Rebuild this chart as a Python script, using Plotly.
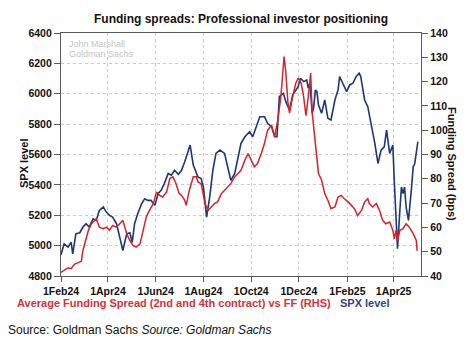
import plotly.graph_objects as go

# ---- Data ----
spx_dates = [
    "2024-02-01", "2024-02-05", "2024-02-10", "2024-02-14", "2024-02-16", "2024-02-20",
    "2024-02-25", "2024-02-29", "2024-03-04", "2024-03-08", "2024-03-13", "2024-03-17",
    "2024-03-21", "2024-03-26", "2024-03-30", "2024-04-03", "2024-04-07", "2024-04-12",
    "2024-04-16", "2024-04-20", "2024-04-25", "2024-04-29", "2024-05-02", "2024-05-05",
    "2024-05-09", "2024-05-14", "2024-05-18", "2024-05-22", "2024-05-26", "2024-05-31",
    "2024-06-04", "2024-06-08", "2024-06-12", "2024-06-17", "2024-06-21", "2024-06-25",
    "2024-06-30", "2024-07-04", "2024-07-08", "2024-07-12", "2024-07-15", "2024-07-19",
    "2024-07-22", "2024-07-25", "2024-07-29", "2024-08-01", "2024-08-05", "2024-08-09",
    "2024-08-13", "2024-08-17", "2024-08-22", "2024-08-28", "2024-09-01", "2024-09-05",
    "2024-09-10", "2024-09-14", "2024-09-18", "2024-09-23", "2024-09-29", "2024-10-03",
    "2024-10-07", "2024-10-12", "2024-10-18", "2024-10-22", "2024-10-27", "2024-10-31",
    "2024-11-03", "2024-11-06", "2024-11-11", "2024-11-15", "2024-11-19", "2024-11-23",
    "2024-11-30", "2024-12-03", "2024-12-07", "2024-12-11", "2024-12-13", "2024-12-15",
    "2024-12-18", "2024-12-20", "2024-12-22", "2024-12-24", "2024-12-26", "2024-12-30",
    "2025-01-03", "2025-01-07", "2025-01-11", "2025-01-16", "2025-01-20", "2025-01-22",
    "2025-01-26", "2025-01-31", "2025-02-04", "2025-02-08", "2025-02-12", "2025-02-16",
    "2025-02-18", "2025-02-23", "2025-02-27", "2025-03-04", "2025-03-08", "2025-03-12",
    "2025-03-14", "2025-03-16", "2025-03-20", "2025-03-23", "2025-03-27", "2025-03-31",
    "2025-04-02", "2025-04-04", "2025-04-06", "2025-04-09", "2025-04-11", "2025-04-13",
    "2025-04-15", "2025-04-17", "2025-04-20", "2025-04-24", "2025-04-26", "2025-04-28",
    "2025-04-30", "2025-05-02",
]
spx_level = [
    4940, 5012, 4990, 5022, 4946, 5078,
    5085, 5122, 5144, 5122, 5177, 5166,
    5232, 5254, 5221, 5199, 5188, 5144,
    5056, 4968, 5078, 5085, 5022, 5144,
    5210, 5276, 5309, 5298, 5298, 5265,
    5342, 5364, 5408, 5475, 5464, 5496,
    5470, 5496, 5551, 5607, 5662, 5530,
    5496, 5452, 5441, 5386, 5188, 5320,
    5496, 5607, 5629, 5607, 5518, 5430,
    5475, 5584, 5673, 5717, 5750, 5717,
    5783, 5849, 5849, 5805, 5783, 5717,
    5717, 5981, 6003, 5937, 5893, 5992,
    6047, 6102, 6080, 6091, 6036, 6069,
    5871, 5915, 6025, 6014, 5926, 5871,
    5959, 5838, 5827, 5959, 6025, 6113,
    6069, 6014, 6058, 6069, 6113, 6135,
    6113, 5959, 5915, 5783, 5673, 5541,
    5584, 5629, 5650, 5761, 5607, 5662,
    5409, 5188, 4980, 5232, 5386, 5342,
    5386, 5254, 5166, 5386, 5518, 5541,
    5629, 5684,
]

spread_dates = [
    "2024-02-01", "2024-02-05", "2024-02-10", "2024-02-14", "2024-02-18", "2024-02-23",
    "2024-02-27", "2024-02-29", "2024-03-02", "2024-03-07", "2024-03-11", "2024-03-15",
    "2024-03-17", "2024-03-21", "2024-03-26", "2024-03-30", "2024-04-03", "2024-04-07",
    "2024-04-12", "2024-04-16", "2024-04-20", "2024-04-25", "2024-04-29", "2024-05-03",
    "2024-05-07", "2024-05-12", "2024-05-16", "2024-05-20", "2024-05-24", "2024-05-29",
    "2024-06-02", "2024-06-06", "2024-06-10", "2024-06-15", "2024-06-19", "2024-06-23",
    "2024-06-27", "2024-07-01", "2024-07-04", "2024-07-08", "2024-07-10", "2024-07-14",
    "2024-07-19", "2024-07-23", "2024-07-25", "2024-07-29", "2024-08-03", "2024-08-07",
    "2024-08-11", "2024-08-15", "2024-08-19", "2024-08-24", "2024-08-28", "2024-09-01",
    "2024-09-05", "2024-09-10", "2024-09-14", "2024-09-18", "2024-09-23", "2024-09-27",
    "2024-10-01", "2024-10-05", "2024-10-09", "2024-10-14", "2024-10-18", "2024-10-22",
    "2024-10-27", "2024-10-31", "2024-11-04", "2024-11-08", "2024-11-12", "2024-11-14",
    "2024-11-17", "2024-11-19", "2024-11-23", "2024-11-27", "2024-11-30", "2024-12-04",
    "2024-12-07", "2024-12-10", "2024-12-13", "2024-12-16", "2024-12-18", "2024-12-20",
    "2024-12-22", "2024-12-24", "2024-12-26", "2024-12-30", "2025-01-01", "2025-01-03",
    "2025-01-07", "2025-01-11", "2025-01-16", "2025-01-20", "2025-01-24", "2025-01-28",
    "2025-02-02", "2025-02-06", "2025-02-10", "2025-02-14", "2025-02-19", "2025-02-23",
    "2025-02-27", "2025-03-01", "2025-03-05", "2025-03-10", "2025-03-14", "2025-03-18",
    "2025-03-22", "2025-03-27", "2025-03-31", "2025-04-02", "2025-04-04", "2025-04-06",
    "2025-04-09", "2025-04-13", "2025-04-17", "2025-04-21", "2025-04-26", "2025-04-30",
    "2025-05-01",
]
funding_spread = [
    41.5, 42.2, 43.4, 43.0, 44.8, 45.5,
    46.1, 50.5, 53.2, 58.8, 61.5, 62.9,
    63.6, 60.1, 59.5, 60.1, 58.8, 60.8,
    60.1, 61.5, 62.9, 57.4, 54.6, 52.6,
    51.9, 53.2, 58.8, 64.3, 67.0, 69.8,
    74.6, 73.2, 72.5, 74.6, 80.1, 80.8,
    78.0, 73.9, 73.2, 71.2, 69.1, 75.3,
    80.8, 80.8, 78.7, 78.0, 69.8, 67.0,
    68.4, 69.8, 70.5, 73.9, 75.3, 76.6,
    78.0, 80.8, 82.2, 83.5, 87.7, 90.4,
    87.7, 84.9, 86.3, 90.4, 94.6, 100.0,
    102.1, 97.3, 104.2, 113.8, 130.3, 124.8,
    111.1, 107.0, 113.8, 119.3, 121.4, 119.3,
    113.8, 106.0, 113.8, 123.5, 107.0, 100.0,
    94.6, 89.0, 82.2, 79.4, 76.6, 73.9,
    71.2, 67.7, 68.4, 72.5, 73.2, 71.8,
    70.5, 69.1, 67.7, 64.9, 67.0, 70.5,
    71.8, 69.8, 68.4, 69.8, 67.0, 62.9,
    61.5, 62.2, 58.8, 55.3, 58.8, 54.6,
    58.8, 59.5, 61.5, 60.1, 57.4, 54.6,
    50.4,
]

x_tick_vals = ["2024-02-01", "2024-04-01", "2024-06-01", "2024-08-01",
               "2024-10-01", "2024-12-01", "2025-02-01", "2025-04-01"]
x_tick_text = ["1Feb24", "1Apr24", "1Jun24", "1Aug24",
               "1Oct24", "1Dec24", "1Feb25", "1Apr25"]

# ---- Styling ----
FONT = "Liberation Sans, Arial, sans-serif"
RED = "#d8232a"
BLUE = "#1c3676"
AXIS = "#5a5a5a"
GRID = "#c9c9c9"

fig = go.Figure()
fig.add_trace(go.Scatter(x=spread_dates, y=funding_spread, yaxis="y2", mode="lines",
                         line=dict(color=RED, width=1.5), name="Funding spread"))
fig.add_trace(go.Scatter(x=spx_dates, y=spx_level, yaxis="y", mode="lines",
                         line=dict(color=BLUE, width=1.6), name="SPX level"))

tickfont = dict(family=FONT, size=10.5, color="#111111", weight="bold")

fig.update_layout(
    width=471, height=351,
    margin=dict(l=61, r=50, t=33, b=75),
    paper_bgcolor="white", plot_bgcolor="white",
    showlegend=False,
    xaxis=dict(
        type="date", range=["2024-02-01", "2025-05-06"],
        tickvals=x_tick_vals, ticktext=x_tick_text, tickfont=tickfont,
        ticks="outside", ticklen=5, tickcolor=AXIS,
        showline=True, linecolor=AXIS, linewidth=1.3, mirror=True,
        showgrid=True, gridcolor=GRID, griddash="3px,3px", gridwidth=1,
        zeroline=False,
    ),
    yaxis=dict(
        range=[4800, 6400], dtick=200, tickfont=tickfont,
        ticks="outside", ticklen=6, tickcolor=AXIS,
        showline=True, linecolor=AXIS, linewidth=1.3,
        showgrid=True, gridcolor=GRID, griddash="3px,3px", gridwidth=1,
        zeroline=False,
    ),
    yaxis2=dict(
        range=[40, 140], dtick=10, tickfont=tickfont, overlaying="y", side="right",
        ticks="outside", ticklen=6, tickcolor=AXIS,
        showline=True, linecolor=AXIS, linewidth=1.3,
        showgrid=False, zeroline=False,
    ),
)


def px_ann(text, x, y, size, color, xanchor="left", yanchor="middle", angle=0, bold=False):
    t = "<b>" + text + "</b>" if bold else text
    pw = 471 - 61 - 50
    ph = 351 - 33 - 75
    xp = (x - 61) / pw
    yp = (351 - 75 - y) / ph
    fig.add_annotation(text=t, x=xp, y=yp, xref="paper", yref="paper",
                       showarrow=False, xanchor=xanchor, yanchor=yanchor,
                       textangle=angle,
                       font=dict(family=FONT, size=size, color=color))


px_ann("Funding spreads: Professional investor positioning", 241, 19, 12, "#111111",
       xanchor="center", bold=True)
px_ann("John Marshall", 67, 44, 9, "#c4c4c4")
px_ann("Goldman Sachs", 67, 54, 9, "#c4c4c4")
px_ann("SPX level", 24, 163, 11, "#111111", xanchor="center", angle=-90, bold=True)
px_ann("Funding Spread (bps)", 452, 164, 11, "#111111", xanchor="center", angle=90, bold=True)
px_ann("Average Funding Spread (2nd and 4th contract) vs FF (RHS)", 15, 303, 11, "#d9303a", bold=True)
px_ann("SPX level", 338, 303, 11, "#2d4688", bold=True)
px_ann("Source: Goldman Sachs <i>Source: Goldman Sachs</i>", 6, 330, 12, "#111111")

fig.write_html("out.html")
